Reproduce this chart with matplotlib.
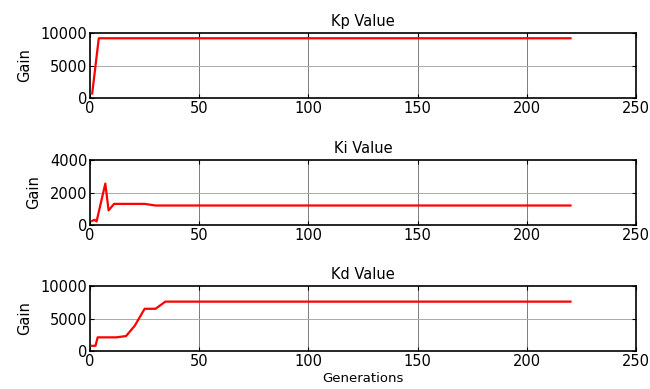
import matplotlib
matplotlib.use('Agg')
import matplotlib.pyplot as plt
import numpy as np

# generation / gain values
kp_gen = [1, 4, 220]
kp_val = [700, 9200, 9200]

ki_gen = [1, 2, 3, 7, 8.5, 11, 25, 30, 220]
ki_val = [250, 320, 220, 2550, 900, 1300, 1300, 1200, 1200]

kd_gen = [1, 2.5, 3.5, 12, 16.5, 20.5, 25, 30, 34.5, 220]
kd_val = [800, 800, 2100, 2100, 2300, 3900, 6500, 6500, 7600, 7600]

titles = ['Kp Value', 'Ki Value', 'Kd Value']
ylims = [10000, 4000, 10000]
yticks = [[0, 5000, 10000], [0, 2000, 4000], [0, 5000, 10000]]
xticks = [0, 50, 100, 150, 200, 250]

plt.rcParams['font.family'] = ['DejaVu Sans']
plt.rcParams['font.size'] = 9.5

fig = plt.figure(figsize=(6.5, 3.89), dpi=100)
bottoms = [0.748, 0.4216, 0.0977]
series = [(kp_gen, kp_val), (ki_gen, ki_val), (kd_gen, kd_val)]

for i in range(3):
    ax = fig.add_axes([0.1385, bottoms[i], 0.840, 0.167])
    x, y = series[i]
    ax.plot(x, y, color='red', lw=1.6)
    ax.set_xlim(0, 250)
    ax.set_ylim(0, ylims[i])
    ax.set_xticks(xticks)
    ax.set_yticks(yticks[i])
    ax.set_title(titles[i], fontsize=10.5, pad=5)
    ax.set_ylabel('Gain', fontsize=10.5, labelpad=6)
    ax.tick_params(direction='in', top=True, right=True, length=3, width=0.8, pad=2, labelsize=10.5)
    for s in ax.spines.values():
        s.set_linewidth(1.2)
    for xv in xticks[1:-1]:
        ax.axvline(xv, color='#666666', lw=0.6, zorder=0)
    for yv in yticks[i][1:-1]:
        ax.axhline(yv, color='#aaaaaa', lw=0.7, zorder=0)
    if i == 2:
        ax.set_xlabel('Generations', fontsize=9.5, labelpad=2)

fig.savefig('out.png', dpi=100)
